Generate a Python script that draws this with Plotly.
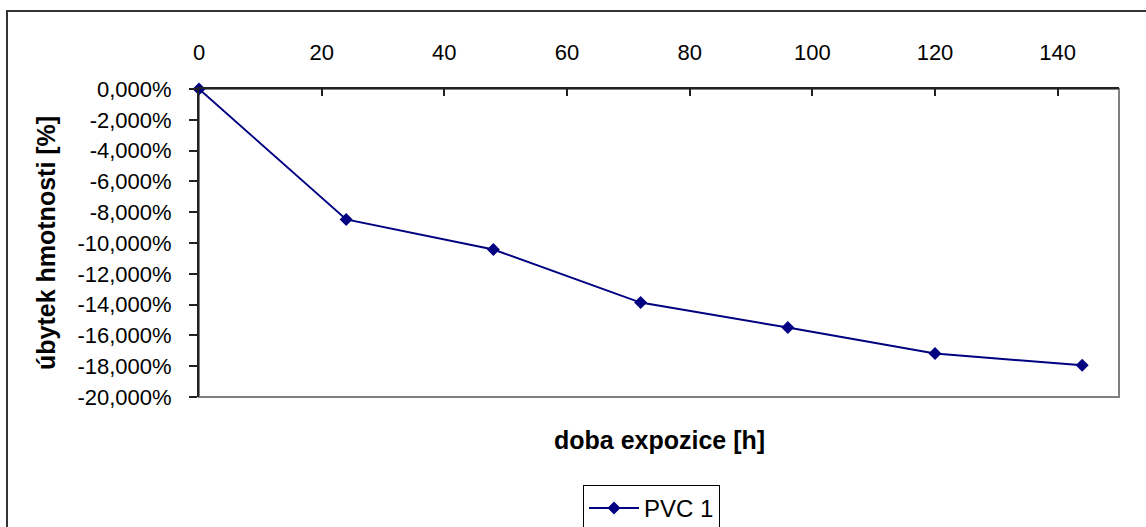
import plotly.graph_objects as go

# Data
hours = [0, 24, 48, 72, 96, 120, 144]
mass_loss = [0.0, -0.0847, -0.1042, -0.1387, -0.1549, -0.1718, -0.1794]
series_name = "PVC 1"

x_ticks = [0, 20, 40, 60, 80, 100, 120, 140]
y_ticks = [0, -0.02, -0.04, -0.06, -0.08, -0.10, -0.12, -0.14, -0.16, -0.18, -0.20]
y_tick_labels = ["0,000%", "-2,000%", "-4,000%", "-6,000%", "-8,000%", "-10,000%",
                 "-12,000%", "-14,000%", "-16,000%", "-18,000%", "-20,000%"]

x_title = "doba expozice [h]"
y_title = "úbytek hmotnosti [%]"

FONT = "Arial, Liberation Sans, sans-serif"
W, H = 1146, 527
L, R, T, B = 199, 27, 89, 130
pw, ph = W - L - R, H - T - B

def px_x(p):
    return (p - L) / pw

def px_y(p):
    return (H - B - p) / ph

fig = go.Figure()
fig.add_trace(go.Scatter(
    x=hours, y=mass_loss, name=series_name, mode="lines+markers",
    line=dict(color="#000080", width=2),
    marker=dict(symbol="diamond", size=10, color="#000080"),
    cliponaxis=False,
))

fig.update_layout(
    width=W, height=H,
    margin=dict(l=L, r=R, t=T, b=B, autoexpand=False),
    paper_bgcolor="white", plot_bgcolor="white",
    font=dict(family=FONT, size=22, color="black"),
    showlegend=True,
    legend=dict(
        x=px_x(583), y=px_y(485), xanchor="left", yanchor="top",
        bordercolor="black", borderwidth=1, bgcolor="white",
        font=dict(size=24), itemwidth=50,
    ),
    xaxis=dict(
        range=[0, 150], side="top", tickvals=x_ticks,
        showline=True, linecolor="#222", linewidth=2,
        ticks="inside", ticklen=7, tickcolor="#222", tickwidth=2,
        showgrid=False, zeroline=False, ticklabelstandoff=18,
        tickfont=dict(size=22),
    ),
    yaxis=dict(
        range=[-0.2, 0], tickvals=y_ticks, ticktext=y_tick_labels,
        showline=True, linecolor="#222", linewidth=2,
        ticks="outside", ticklen=8, tickcolor="#222", tickwidth=2,
        showgrid=False, zeroline=False, ticklabelstandoff=13,
        tickfont=dict(size=22),
    ),
    shapes=[
        dict(type="rect", xref="paper", yref="paper", x0=0, x1=1, y0=0, y1=1,
             line=dict(color="#808080", width=2), layer="below"),
        dict(type="rect", xref="paper", yref="paper",
             x0=px_x(7), x1=px_x(1160), y0=px_y(540), y1=px_y(11),
             line=dict(color="#333", width=2), layer="below"),
    ],
    annotations=[
        dict(text="<b>" + x_title + "</b>", xref="paper", yref="paper",
             x=0.5, y=px_y(440), xanchor="center", yanchor="middle",
             showarrow=False, font=dict(size=25)),
        dict(text="<b>" + y_title + "</b>", xref="paper", yref="paper",
             x=px_x(46), y=0.5, xanchor="center", yanchor="middle",
             textangle=-90, showarrow=False, font=dict(size=25)),
    ],
)

fig.write_html("out.html")
